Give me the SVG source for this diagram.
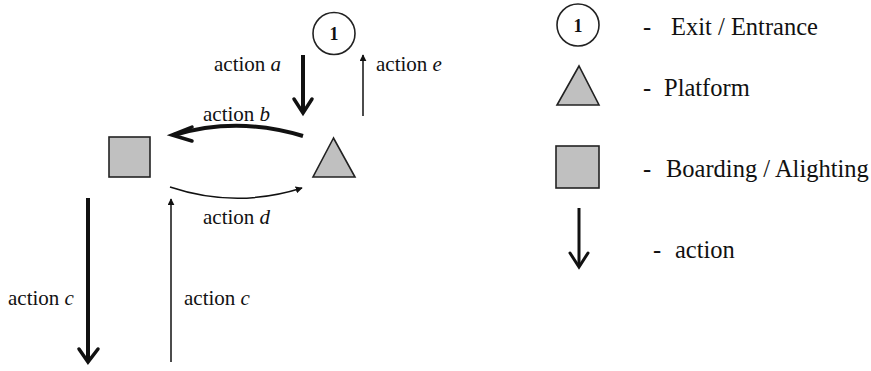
<svg xmlns="http://www.w3.org/2000/svg" width="871" height="371" viewBox="0 0 871 371">
<defs>
<marker id="fh" viewBox="0 0 10 10" refX="9" refY="5" markerWidth="7" markerHeight="7" markerUnits="userSpaceOnUse" orient="auto">
<path d="M0,0 L10,5 L0,10 z" fill="#111"/>
</marker>
</defs>
<style>
.lbl{font-family:"Liberation Serif","Times New Roman",serif;font-size:21px;fill:#111}
.leg{font-family:"Liberation Serif","Times New Roman",serif;font-size:24.5px;fill:#111}
.num{font-family:"Liberation Serif","Times New Roman",serif;font-size:18px;font-weight:bold;fill:#111}
.shape{fill:#c0c0c0;stroke:#222;stroke-width:1.6}
.circ{fill:#fff;stroke:#222;stroke-width:1.6}
.thick{fill:none;stroke:#111;stroke-width:4}
.head{fill:none;stroke:#111;stroke-width:3.5;stroke-linecap:round;stroke-linejoin:miter}
.thin{fill:none;stroke:#111;stroke-width:1.5}
</style>
<rect width="871" height="371" fill="#fff"/>

<g id="exit">
<circle class="circ" cx="334" cy="33.5" r="21"/>
<text class="num" x="334" y="40" text-anchor="middle">1</text>
</g>
<g id="platform">
<polygon class="shape" points="333.5,138 313,177 355,177"/>
</g>
<g id="boarding">
<rect class="shape" x="109" y="137" width="41" height="40"/>
</g>

<g id="connectors">
<g id="action-a">
<line class="thick" x1="303" y1="55" x2="303" y2="112"/>
<polyline class="head" points="294,99 303,113 312,99"/>
</g>
<g id="action-e">
<line class="thin" x1="363" y1="116" x2="363" y2="55" marker-end="url(#fh)"/>
</g>
<g id="action-b">
<path class="thick" d="M303,136 Q237,116 174,135"/>
<polyline class="head" points="192,127 172,135 192,141"/>
</g>
<g id="action-d">
<path class="thin" d="M170,187 Q236,209 302,188" marker-end="url(#fh)"/>
</g>
<g id="action-c-down">
<line class="thick" x1="88" y1="198" x2="88" y2="360"/>
<polyline class="head" points="79,349 88,362 98,349"/>
</g>
<g id="action-c-up">
<line class="thin" x1="171" y1="362" x2="171" y2="199" marker-end="url(#fh)"/>
</g>
</g>

<g id="labels">
<text class="lbl" x="214" y="71">action <tspan font-style="italic">a</tspan></text>
<text class="lbl" x="376" y="71">action <tspan font-style="italic">e</tspan></text>
<text class="lbl" x="203" y="121">action <tspan font-style="italic">b</tspan></text>
<text class="lbl" x="203" y="224">action <tspan font-style="italic">d</tspan></text>
<text class="lbl" x="8" y="305">action <tspan font-style="italic">c</tspan></text>
<text class="lbl" x="184" y="305">action <tspan font-style="italic">c</tspan></text>
</g>

<g id="legend">
<g id="legend-exit">
<circle class="circ" cx="578" cy="25" r="21"/>
<text class="num" x="578" y="31.5" text-anchor="middle">1</text>
<text class="leg" x="643" y="35">-</text>
<text class="leg" x="671" y="35">Exit / Entrance</text>
</g>
<g id="legend-platform">
<polygon class="shape" points="579,66 557,105 599,105"/>
<text class="leg" x="643" y="96">-</text>
<text class="leg" x="664" y="96">Platform</text>
</g>
<g id="legend-boarding">
<rect class="shape" x="556" y="146" width="43" height="42"/>
<text class="leg" x="643" y="177">-</text>
<text class="leg" x="666" y="177">Boarding / Alighting</text>
</g>
<g id="legend-action">
<line class="thick" x1="579" y1="208" x2="579" y2="265" style="stroke-width:3"/>
<polyline class="head" points="570,253 579,267 588,253" style="stroke-width:3"/>
<text class="leg" x="653" y="258">-</text>
<text class="leg" x="675" y="258">action</text>
</g>
</g>
</svg>
